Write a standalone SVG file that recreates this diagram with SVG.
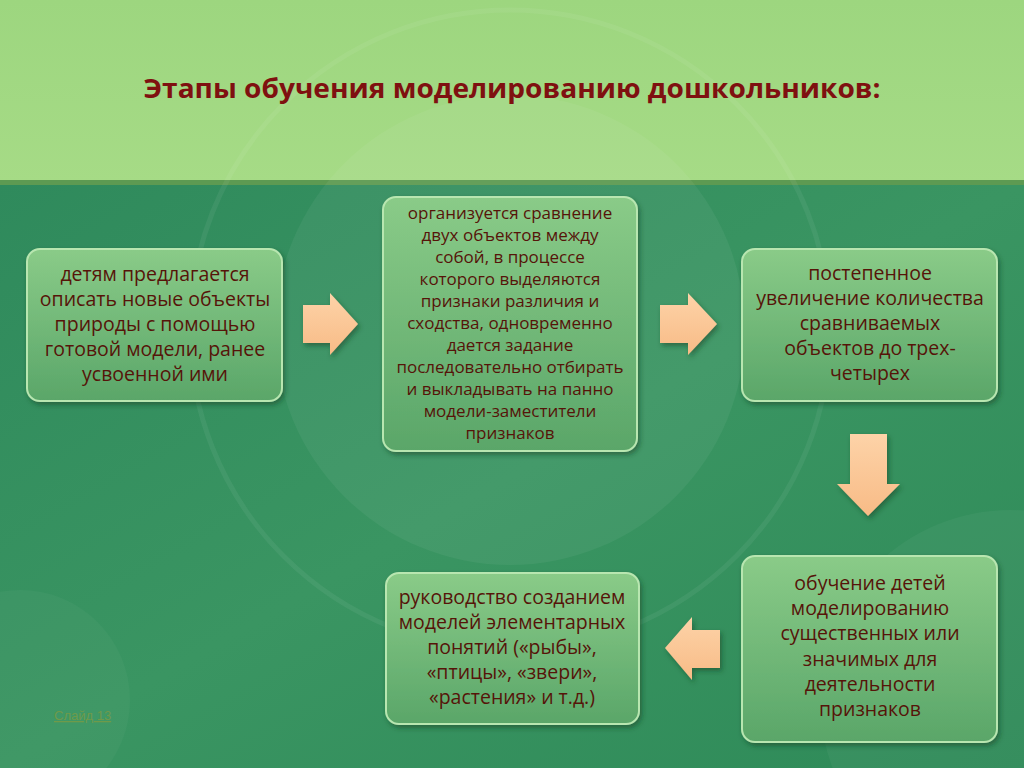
<svg xmlns="http://www.w3.org/2000/svg" width="1024" height="768" viewBox="0 0 1024 768">
<defs>
<linearGradient id="topBg" x1="0" y1="0" x2="0" y2="1">
<stop offset="0" stop-color="#9dd67f"/>
<stop offset="1" stop-color="#a6db86"/>
</linearGradient>
<linearGradient id="botBg" x1="0" y1="0" x2="1" y2="1">
<stop offset="0" stop-color="#2f8a5c"/>
<stop offset="0.5" stop-color="#3a9562"/>
<stop offset="1" stop-color="#2e8a58"/>
</linearGradient>
<linearGradient id="boxFill" x1="0" y1="0" x2="0" y2="1">
<stop offset="0" stop-color="#8acb88"/>
<stop offset="1" stop-color="#5aa669"/>
</linearGradient>
<linearGradient id="arrowFill" x1="0" y1="0" x2="0" y2="1">
<stop offset="0" stop-color="#fdd3a8"/>
<stop offset="1" stop-color="#f8bb86"/>
</linearGradient>
<filter id="shadow" x="-10%" y="-10%" width="125%" height="125%">
<feDropShadow dx="2" dy="3" stdDeviation="2.5" flood-color="#0b3a20" flood-opacity="0.5"/>
</filter>
<style>
.box{fill:url(#boxFill);stroke:#b8e6b0;stroke-width:2;filter:url(#shadow)}
.txt{font-family:"Open Sans","Liberation Sans",sans-serif;fill:#561409;text-anchor:middle}
.t19{font-size:19.5px}
.t16{font-size:17px}
.arrow{fill:url(#arrowFill);filter:url(#shadow)}
.deco{fill:none;stroke:#ffffff;stroke-opacity:0.06;stroke-width:5}
</style>
</defs>
<rect x="0" y="0" width="1024" height="183" fill="url(#topBg)"/>
<rect x="0" y="183" width="1024" height="585" fill="url(#botBg)"/>
<rect x="0" y="180" width="1024" height="5" fill="#5d9a52"/>
<circle cx="510" cy="330" r="235" fill="#ffffff" fill-opacity="0.05"/>
<circle cx="510" cy="330" r="320" class="deco"/>
<circle cx="1010" cy="700" r="190" fill="#ffffff" fill-opacity="0.04"/>
<circle cx="20" cy="700" r="110" fill="#ffffff" fill-opacity="0.03"/>
<text x="512" y="98" font-family="'Open Sans','Liberation Sans',sans-serif" font-size="27" font-weight="bold" fill="#7f1010" text-anchor="middle" textLength="737" lengthAdjust="spacingAndGlyphs">Этапы обучения моделированию дошкольников:</text>
<g id="connectors">
<polygon class="arrow" points="303,305 330,305 330,293 358,324 330,355 330,343 303,343"/>
<polygon class="arrow" points="660,305 688,305 688,293 717,324 688,355 688,343 660,343"/>
<polygon class="arrow" points="850,434 887,434 887,484 900,484 868,516 837,484 850,484"/>
<polygon class="arrow" points="720,630 692,630 692,617 665,648 692,680 692,668 720,668"/>
</g>
<g id="node1">
<rect class="box" x="27" y="249" width="255" height="152" rx="13"/>
<text class="txt t19" x="155"><tspan x="155" y="281">детям предлагается</tspan><tspan x="155" y="306">описать новые объекты</tspan><tspan x="155" y="331">природы с помощью</tspan><tspan x="155" y="356">готовой модели, ранее</tspan><tspan x="155" y="381">усвоенной ими</tspan></text>
</g>
<g id="node2">
<rect class="box" x="383" y="197" width="254" height="254" rx="13"/>
<text class="txt t16" x="510"><tspan x="510" y="219">организуется сравнение</tspan><tspan x="510" y="241">двух объектов между</tspan><tspan x="510" y="263">собой, в процессе</tspan><tspan x="510" y="285">которого выделяются</tspan><tspan x="510" y="307">признаки различия и</tspan><tspan x="510" y="329">сходства, одновременно</tspan><tspan x="510" y="351">дается задание</tspan><tspan x="510" y="373">последовательно отбирать</tspan><tspan x="510" y="395">и выкладывать на панно</tspan><tspan x="510" y="417">модели-заместители</tspan><tspan x="510" y="439">признаков</tspan></text>
</g>
<g id="node3">
<rect class="box" x="742" y="249" width="255" height="152" rx="13"/>
<text class="txt t19" x="870"><tspan x="870" y="280">постепенное</tspan><tspan x="870" y="305">увеличение количества</tspan><tspan x="870" y="330">сравниваемых</tspan><tspan x="870" y="355">объектов до трех-</tspan><tspan x="870" y="380">четырех</tspan></text>
</g>
<g id="node4">
<rect class="box" x="742" y="556" width="255" height="186" rx="13"/>
<text class="txt t19" x="870"><tspan x="870" y="590">обучение детей</tspan><tspan x="870" y="615">моделированию</tspan><tspan x="870" y="640">существенных или</tspan><tspan x="870" y="666">значимых для</tspan><tspan x="870" y="691">деятельности</tspan><tspan x="870" y="716">признаков</tspan></text>
</g>
<g id="node5">
<rect class="box" x="386" y="573" width="253" height="151" rx="13"/>
<text class="txt t19" x="512"><tspan x="512" y="604">руководство созданием</tspan><tspan x="512" y="629">моделей элементарных</tspan><tspan x="512" y="654">понятий («рыбы»,</tspan><tspan x="512" y="679">«птицы», «звери»,</tspan><tspan x="512" y="704">«растения» и т.д.)</tspan></text>
</g>
<text x="54" y="720" font-family="'Liberation Sans',sans-serif" font-size="13" fill="#6f9a4a" text-decoration="underline">Слайд 13</text>
</svg>
